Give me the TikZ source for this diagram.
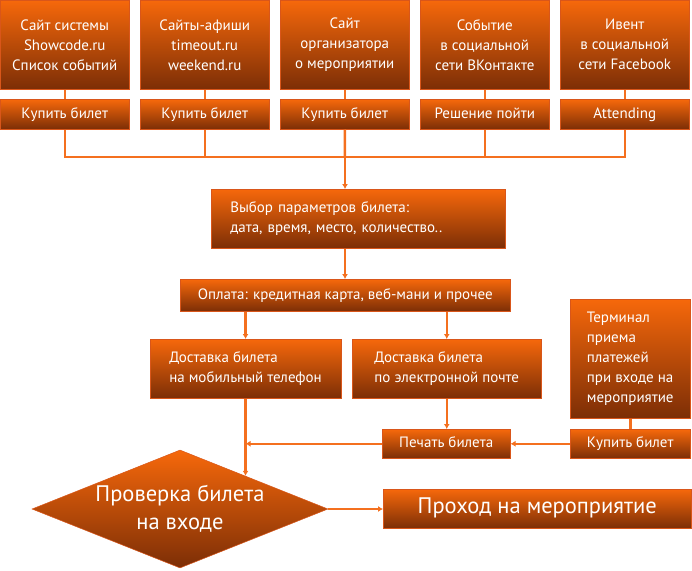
\documentclass[tikz,border=0pt]{standalone}
\usepackage{fontspec}
\setmainfont{PT Sans}
\usepackage{tikz}
\usetikzlibrary{arrows.meta, calc, positioning, shapes.geometric}
\usepackage{xcolor}
\definecolor{boxtop}{HTML}{F6680B}
\definecolor{boxbottom}{HTML}{7C2E06}
\definecolor{boxedge}{HTML}{D9561A}
\definecolor{linkorange}{HTML}{F4701F}

\begin{document}
\begin{tikzpicture}[
  x=1pt, y=-1pt,
  font=\fontsize{15}{20}\selectfont,
  block/.style={draw=boxedge, line width=0.5pt, top color=boxtop,
                bottom color=boxbottom, text=white, anchor=north west,
                inner sep=0pt, align=center},
  btnblock/.style={block, text height=11pt, text depth=3.5pt},
  leftblock/.style={block, align=left, inner xsep=19pt},
  bigblock/.style={btnblock, font=\fontsize{22.5}{28}\selectfont,
                   text height=15pt, text depth=5pt},
  checkblock/.style={draw=boxedge, line width=0.5pt, top color=boxtop,
                     bottom color=boxbottom, text=white, shape=diamond,
                     inner sep=0pt, aspect=2.5, align=center,
                     font=\fontsize{22.5}{28}\selectfont},
  link/.style={draw=linkorange, line width=2.5pt},
  arrow/.style={link, -{Latex[length=5pt, width=6pt]}}
]
\useasboundingbox (0,0) rectangle (692,570);

% ---------------- Sources ----------------
\node[block, minimum width=129, minimum height=89] (site) at (0,0)
  {Сайт системы\\Showcode.ru\\Список событий};
\node[block, minimum width=129, minimum height=89] (afisha) at (140,0)
  {Сайты-афиши\\timeout.ru\\weekend.ru};
\node[block, minimum width=129, minimum height=89] (org) at (280,0)
  {Сайт\\организатора\\о мероприятии};
\node[block, minimum width=129, minimum height=89] (vk) at (420,0)
  {Событие\\в социальной\\сети ВКонтакте};
\node[block, minimum width=129, minimum height=89] (fb) at (560,0)
  {Ивент\\в социальной\\сети Facebook};

% ---------------- Actions ----------------
\node[btnblock, minimum width=129, minimum height=30] (buysite) at (0,99) {Купить билет};
\node[btnblock, minimum width=129, minimum height=30] (buyafisha) at (140,99) {Купить билет};
\node[btnblock, minimum width=129, minimum height=30] (buyorg) at (280,99) {Купить билет};
\node[btnblock, minimum width=129, minimum height=30] (govk) at (420,99) {Решение пойти};
\node[btnblock, minimum width=129, minimum height=30] (gofb) at (560,99) {Attending};

\coordinate (bus) at (345,157);

% ---------------- Ticket ----------------
\node[leftblock, minimum width=294, minimum height=59, text width=256] (choose) at (211,189)
  {Выбор параметров билета:\\дата, время, место, количество..};
\node[btnblock, minimum width=330, minimum height=32] (pay) at (180,279)
  {Оплата: кредитная карта, веб-мани и прочее};

\node[leftblock, minimum width=189, minimum height=59] (mobile) at (150,339)
  {Доставка билета\\на мобильный телефон};
\node[leftblock, minimum width=189, minimum height=59] (email) at (352,339)
  {Доставка билета\\по электронной почте};

\node[leftblock, minimum width=120, minimum height=119, inner xsep=2pt] (term) at (570,299)
  {Терминал\\приема\\платежей\\при входе на\\мероприятие};
\node[btnblock, minimum width=120, minimum height=29] (buyterm) at (570,429) {Купить билет};
\node[btnblock, minimum width=128, minimum height=29] (print) at (382,429) {Печать билета};

% ---------------- Entry ----------------
\node[checkblock, minimum width=296, minimum height=118] (check) at (180,509)
  {Проверка билета\\на входе};
\node[bigblock, minimum width=308, minimum height=39] (entry) at (383,489)
  {Проход на мероприятие};

\coordinate (checkin) at ($(check.north)!0.44!(check.east)$);

% ---------------- Arrows ----------------
\draw[link] (site) -- (buysite);
\draw[link] (afisha) -- (buyafisha);
\draw[link] (org) -- (buyorg);
\draw[link] (vk) -- (govk);
\draw[link] (fb) -- (gofb);

\draw[link] (buysite.south) |- (bus);
\draw[link] (buyafisha.south) |- (bus);
\draw[link] (buyorg.south) -- (bus);
\draw[link] (govk.south) |- (bus);
\draw[link] (gofb.south) |- (bus);
\draw[arrow] (bus) -- (choose.north -| bus);

\draw[arrow] (choose.south -| bus) -- (pay.north -| bus);
\draw[arrow] (mobile.north |- pay.south) -- (mobile.north);
\draw[arrow] (email.north |- pay.south) -- (email.north);

\draw[arrow] (email.south) -- (print.north -| email.south);
\draw[link] (term) -- (buyterm);
\draw[arrow] (buyterm) -- (print);
\draw[arrow] (print.west) -- (print.west -| mobile.south);

\draw[arrow] (mobile.south) -- (mobile.south |- checkin);
\draw[arrow] (check.east) -- (entry.west |- check.east);

\end{tikzpicture}
\end{document}
